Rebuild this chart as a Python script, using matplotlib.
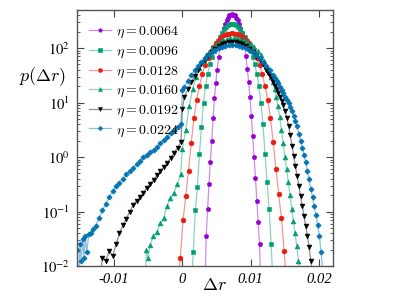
import matplotlib.pyplot as plt
import numpy as np
from matplotlib.ticker import FixedLocator, LogLocator, NullFormatter

plt.rcParams['mathtext.fontset'] = 'cm'

# Delta r in units of 1e-3, log10 p(Delta r)
dr_0064 = [3.3, 3.5, 3.7, 3.9, 4.1, 4.3, 4.5, 4.7, 4.9, 5.1, 5.3, 5.5, 5.7, 5.9,
           6.1, 6.3, 6.5, 6.7, 6.9, 7.1, 7.3, 7.5, 7.7, 7.9, 8.1, 8.3, 8.5, 8.7,
           8.9, 9.1, 9.3, 9.5, 9.7, 9.9, 10.1, 10.3, 10.5, 10.7, 10.9, 11.1, 11.3, 11.5]
lp_0064 = [-2.4, -1.45, -0.95, -0.5, -0.1, 0.3, 0.72, 1.08, 1.36, 1.6, 1.83, 2.02, 2.15, 2.26,
           2.37, 2.45, 2.51, 2.56, 2.6, 2.615, 2.62, 2.615, 2.6, 2.56, 2.51, 2.45, 2.37, 2.27,
           2.16, 2.03, 1.85, 1.62, 1.38, 1.10, 0.75, 0.38, 0.0, -0.38, -0.8, -1.2, -1.6, -2.4]

dr_0096 = [1.3, 1.6, 1.9, 2.2, 2.5, 2.8, 3.1, 3.4, 3.7, 4.0, 4.3, 4.6, 4.9, 5.2,
           5.5, 5.8, 6.1, 6.4, 6.7, 7.0, 7.3, 7.6, 7.9, 8.2, 8.5, 8.8, 9.1, 9.4,
           9.7, 10.0, 10.3, 10.6, 10.9, 11.2, 11.5, 11.8, 12.1, 12.4, 12.7, 13.0, 13.3]
lp_0096 = [-2.4, -1.75, -0.98, -0.55, 0.05, 0.55, 1.0, 1.30, 1.52, 1.70, 1.84, 1.95, 2.04, 2.13,
           2.21, 2.28, 2.34, 2.39, 2.42, 2.435, 2.44, 2.435, 2.42, 2.39, 2.34, 2.28, 2.21, 2.13,
           2.04, 1.95, 1.84, 1.70, 1.52, 1.30, 1.0, 0.6, 0.05, -0.45, -0.95, -1.6, -2.4]

dr_0128 = [-0.7, -0.3, 0.1, 0.5, 0.9, 1.3, 1.7, 2.1, 2.5, 2.9, 3.3, 3.7, 4.1, 4.5,
           4.9, 5.3, 5.7, 6.1, 6.5, 6.9, 7.3, 7.7, 8.1, 8.5, 8.9, 9.3, 9.7, 10.1,
           10.5, 10.9, 11.3, 11.7, 12.1, 12.5, 12.9, 13.3, 13.7, 14.1, 14.5, 14.9, 15.3]
lp_0128 = [-2.4, -1.85, -1.15, -0.72, -0.25, 0.25, 0.72, 1.05, 1.3, 1.52, 1.68, 1.82, 1.93, 2.02,
           2.09, 2.15, 2.2, 2.23, 2.25, 2.265, 2.27, 2.265, 2.25, 2.23, 2.2, 2.15, 2.09, 2.02,
           1.93, 1.82, 1.68, 1.52, 1.3, 1.05, 0.72, 0.27, -0.22, -0.68, -1.12, -1.72, -2.4]

dr_0160 = [-5.5, -5.25, -5.0, -4.75, -4.25, -3.75, -3.25, -2.75, -2.25, -1.75, -1.25, -0.75, -0.25,
           0.0, 0.5, 1.0, 1.5, 2.0, 2.5, 3.0, 3.5, 4.0, 4.5, 5.0, 5.5, 6.0, 6.5, 7.0, 7.5,
           8.0, 8.5, 9.0, 9.5, 10.0, 10.5, 11.0, 11.5, 12.0, 12.5, 12.75, 13.0, 13.25, 13.5,
           13.75, 14.0, 14.25, 14.5, 14.75, 15.0, 15.25, 15.5, 15.75, 16.0, 16.25, 16.5,
           16.75, 17.0, 17.5]
lp_0160 = [-2.4, -1.7, -1.85, -1.62, -1.45, -1.38, -1.22, -1.12, -0.9, -0.76, -0.66, -0.5, -0.32,
           0.15, 0.5, 0.93, 1.25, 1.47, 1.64, 1.77, 1.87, 1.95, 2.02, 2.07, 2.11, 2.14, 2.16, 2.175, 2.18,
           2.175, 2.16, 2.14, 2.11, 2.07, 2.02, 1.95, 1.87, 1.77, 1.64, 1.56, 1.47, 1.37, 1.25,
           1.1, 0.93, 0.73, 0.5, 0.26, 0.0, -0.22, -0.45, -0.7, -0.95, -1.17, -1.4,
           -1.63, -1.9, -2.4]

dr_0192 = [-12.2, -11.7, -11.2, -10.7, -10.2, -9.7, -9.2, -8.7, -8.2, -7.7, -7.2, -6.7, -6.2,
           -5.7, -5.2, -4.7, -4.2, -3.7, -3.2, -2.7, -2.2, -1.7, -1.2, -0.7, -0.2,
           0.0, 0.3, 0.8, 1.3, 1.8, 2.3, 2.8, 3.3, 3.8, 4.3, 4.8, 5.3, 5.8, 6.3, 6.8, 7.3,
           7.8, 8.3, 8.8, 9.3, 9.8, 10.3, 10.8, 11.3, 11.8, 12.3, 12.55, 12.8, 13.05, 13.3,
           13.55, 13.8, 14.05, 14.3, 14.55, 14.8, 15.05, 15.3, 15.55, 15.8, 16.05, 16.3,
           16.55, 16.8, 17.05, 17.3, 17.55, 17.8, 18.05, 18.3, 18.55, 18.8, 19.3]
lp_0192 = [-2.4, -1.85, -1.9, -1.72, -1.82, -1.6, -1.4, -1.25, -1.13, -1.0, -0.88, -0.8, -0.74,
           -0.66, -0.56, -0.49, -0.42, -0.33, -0.26, -0.18, -0.11, -0.02, 0.08, 0.17, 0.28,
           0.88, 1.10, 1.24, 1.37, 1.49, 1.60, 1.70, 1.78, 1.86, 1.93, 1.98, 2.03, 2.065, 2.09, 2.105, 2.11,
           2.105, 2.09, 2.065, 2.03, 1.98, 1.93, 1.86, 1.78, 1.70, 1.60, 1.55, 1.49, 1.43, 1.37,
           1.31, 1.24, 1.17, 1.10, 1.03, 0.95, 0.84, 0.72, 0.57, 0.40, 0.21, 0.02,
           -0.17, -0.35, -0.53, -0.72, -0.9, -1.08, -1.26, -1.45, -1.65, -1.9, -2.4]

dr_0224 = [-15.4, -15.2, -15.0, -14.8, -14.6, -14.4, -14.2, -14.0, -13.7, -13.4, -13.1, -12.7,
           -12.2, -11.7, -11.2, -10.7, -10.2, -9.7, -9.2, -8.7, -8.2, -7.7, -7.2, -6.7, -6.2,
           -5.7, -5.2, -4.7, -4.2, -3.7, -3.2, -2.7, -2.2, -1.7, -1.2, -0.7, -0.2,
           0.0, 0.3, 0.8, 1.3, 1.8, 2.3, 2.8, 3.3, 3.8, 4.3, 4.8, 5.3, 5.8, 6.3, 6.8, 7.3,
           7.8, 8.3, 8.8, 9.3, 9.8, 10.3, 10.8, 11.3, 11.8, 12.3, 12.8, 13.3, 13.55, 13.8,
           14.05, 14.3, 14.55, 14.8, 15.05, 15.3, 15.55, 15.8, 16.05, 16.3, 16.55, 16.8,
           17.05, 17.3, 17.55, 17.8, 18.05, 18.3, 18.55, 18.8, 19.05, 19.3, 19.55, 19.8,
           20.05, 20.3, 20.8]
lp_0224 = [-1.7, -2.4, -1.6, -1.9, -1.5, -1.85, -1.45, -1.75, -1.42, -1.39, -1.33, -1.26,
           -1.12, -0.98, -0.86, -0.74, -0.63, -0.54, -0.47, -0.4, -0.32, -0.26, -0.2, -0.13, -0.07,
           0.0, 0.04, 0.09, 0.13, 0.18, 0.25, 0.32, 0.37, 0.44, 0.5, 0.55, 0.6,
           1.23, 1.29, 1.40, 1.5, 1.59, 1.67, 1.74, 1.81, 1.87, 1.92, 1.965, 2.0, 2.025, 2.045, 2.056, 2.06,
           2.056, 2.045, 2.025, 2.0, 1.965, 1.92, 1.87, 1.81, 1.74, 1.67, 1.59, 1.5, 1.45, 1.40,
           1.35, 1.29, 1.23, 1.17, 1.11, 1.05, 0.99, 0.92, 0.84, 0.76, 0.66, 0.56,
           0.43, 0.3, 0.17, 0.04, -0.1, -0.25, -0.41, -0.58, -0.74, -0.9, -1.07, -1.25,
           -1.45, -1.75, -2.4]

etas = ['0.0064', '0.0096', '0.0128', '0.0160', '0.0192', '0.0224']
colors = ['#9400d3', '#009e73', '#e51e10', '#009e73', '#000000', '#0072b2']
markers = ['p', 's', 'o', '^', 'v', 'P']
xs = [dr_0064, dr_0096, dr_0128, dr_0160, dr_0192, dr_0224]
ys = [lp_0064, lp_0096, lp_0128, lp_0160, lp_0192, lp_0224]

fig = plt.figure(figsize=(4.02, 2.99), dpi=100)
ax = fig.add_axes([77 / 402, 1 - 266 / 299, 256 / 402, 256.5 / 299])

for eta, x, lp, c, m in zip(etas, xs, ys, colors, markers):
    rgb = plt.matplotlib.colors.to_rgb(c)
    ax.plot(np.array(x) * 1e-3, 10 ** np.array(lp), color=rgb + (0.45,), lw=0.9,
            marker=m, ms=3.5, mfc=c, mec=c, mew=0.4,
            label=r'$\eta = %s$' % eta)

ax.set_yscale('log')
ax.set_xlim(-0.01542, 0.02205)
ax.set_ylim(1e-2, 10 ** 2.707)

xt = [-0.01, 0, 0.01, 0.02]
ax.xaxis.set_major_locator(FixedLocator(xt))
ax.set_xticklabels(['-0.01', '0', '0.01', '0.02'], fontfamily='Liberation Serif',
                   fontstyle='italic', fontsize=10.5)
yt = [1e-2, 1e-1, 1e0, 1e1, 1e2]
ax.yaxis.set_major_locator(FixedLocator(yt))
ax.yaxis.set_minor_locator(LogLocator(base=10, subs=np.arange(2, 10)))
ax.yaxis.set_minor_formatter(NullFormatter())
ylabels = ax.set_yticklabels([r'$\mathit{10^{%d}}$' % e for e in [-2, -1, 0, 1, 2]], fontsize=10.5)
for t in ylabels:
    t.set_math_fontfamily('stix')

ax.tick_params(which='both', direction='in', top=True, right=True, color='#444444')
ax.tick_params(which='major', length=5, width=0.8, pad=5)
ax.tick_params(which='minor', length=2.5, width=0.6)
for s in ax.spines.values():
    s.set_color('#555555')
    s.set_linewidth(1.0)

ax.set_xlabel(r'$\Delta r$', fontsize=13)
ax.xaxis.set_label_coords(0.535, -0.039)
ax.set_ylabel(r'$p(\Delta r)$', fontsize=13, rotation=0, va='center', ha='center')
ax.yaxis.set_label_coords(-0.135, 0.739)

ax.legend(loc='upper left', bbox_to_anchor=(0.047, 0.943), frameon=False, fontsize=10,
          borderpad=0, borderaxespad=0, handlelength=1.6, handletextpad=0.35,
          labelspacing=0.25, numpoints=1, markerscale=0.8)

fig.savefig('out.png', dpi=100)
